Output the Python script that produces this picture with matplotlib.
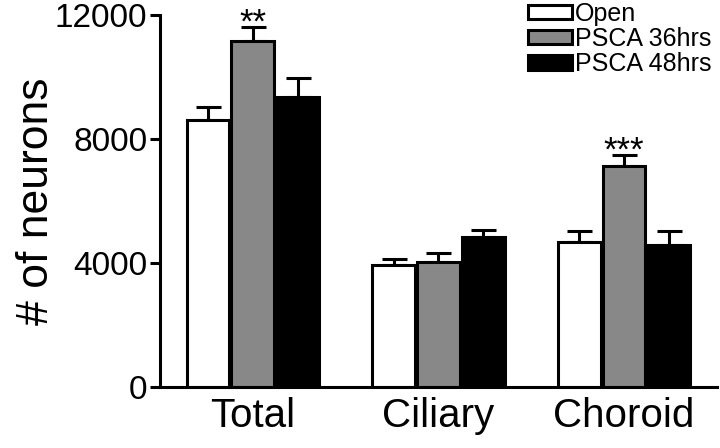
import numpy as np
import matplotlib
matplotlib.use("Agg")
import matplotlib.pyplot as plt
from matplotlib.patches import Patch

plt.rcParams['font.family'] = ['Liberation Sans', 'DejaVu Sans']

# data
regions = ["Total", "Ciliary", "Choroid"]
groups = ["Open", "PSCA 36hrs", "PSCA 48hrs"]
open_mean = [8610, 3940, 4680]
psca36_mean = [11160, 4030, 7130]
psca48_mean = [9350, 4840, 4580]
open_err = [420, 190, 355]
psca36_err = [450, 290, 355]
psca48_err = [610, 225, 450]
stars = ["**", "", "***"]  # significance over PSCA 36hrs

colors = ["white", "#888888", "black"]
means = [open_mean, psca36_mean, psca48_mean]
errs = [open_err, psca36_err, psca48_err]

fig = plt.figure(figsize=(7.2, 4.48), dpi=100)
ax = fig.add_axes([0.2222, 0.1362, 0.7736, 0.8304])

x = np.arange(len(regions))
width = 0.242
lw = 2.2

for i, (m, e, c) in enumerate(zip(means, errs, colors)):
    pos = x + (i - 1) * width
    ax.bar(pos, m, width - 0.012, color=c, edgecolor="black", linewidth=lw, zorder=2)
    ax.errorbar(pos, m, yerr=[np.zeros(len(e)), e], fmt="none", ecolor="black",
                elinewidth=lw, capsize=9, capthick=lw, zorder=1)

# stars above the PSCA 36hrs bars
for xi, m, e, s in zip(x, psca36_mean, psca36_err, stars):
    if s:
        ax.annotate(s, (xi, m + e), xytext=(0, -4), textcoords="offset points",
                    ha="center", va="baseline", fontsize=25, annotation_clip=False)

ax.set_xlim(-0.5, 2.5)
ax.set_ylim(0, 12000)
ax.set_yticks([0, 4000, 8000, 12000])
ax.set_xticks(x)
ax.set_xticklabels(regions, fontsize=29)
ax.tick_params(axis="y", labelsize=24, width=lw, length=7, pad=2)
ax.tick_params(axis="x", length=0, pad=7)
ax.set_ylabel("# of neurons", fontsize=32, labelpad=10)
ax.yaxis.set_label_coords(-0.185, 0.5)

for side in ["top", "right"]:
    ax.spines[side].set_visible(False)
for side in ["left", "bottom"]:
    ax.spines[side].set_linewidth(lw)
ax.spines["left"].set_bounds(0, 12000)

handles = [Patch(facecolor=c, edgecolor="black", linewidth=lw) for c in colors]
fig.legend(handles, groups, loc="upper left", bbox_to_anchor=(0.733, 0.996),
           frameon=False, fontsize=18, handlelength=1.75, handleheight=0.5,
           handletextpad=0.15, labelspacing=0.05, borderpad=0, borderaxespad=0)

plt.savefig("out.png", dpi=100)
